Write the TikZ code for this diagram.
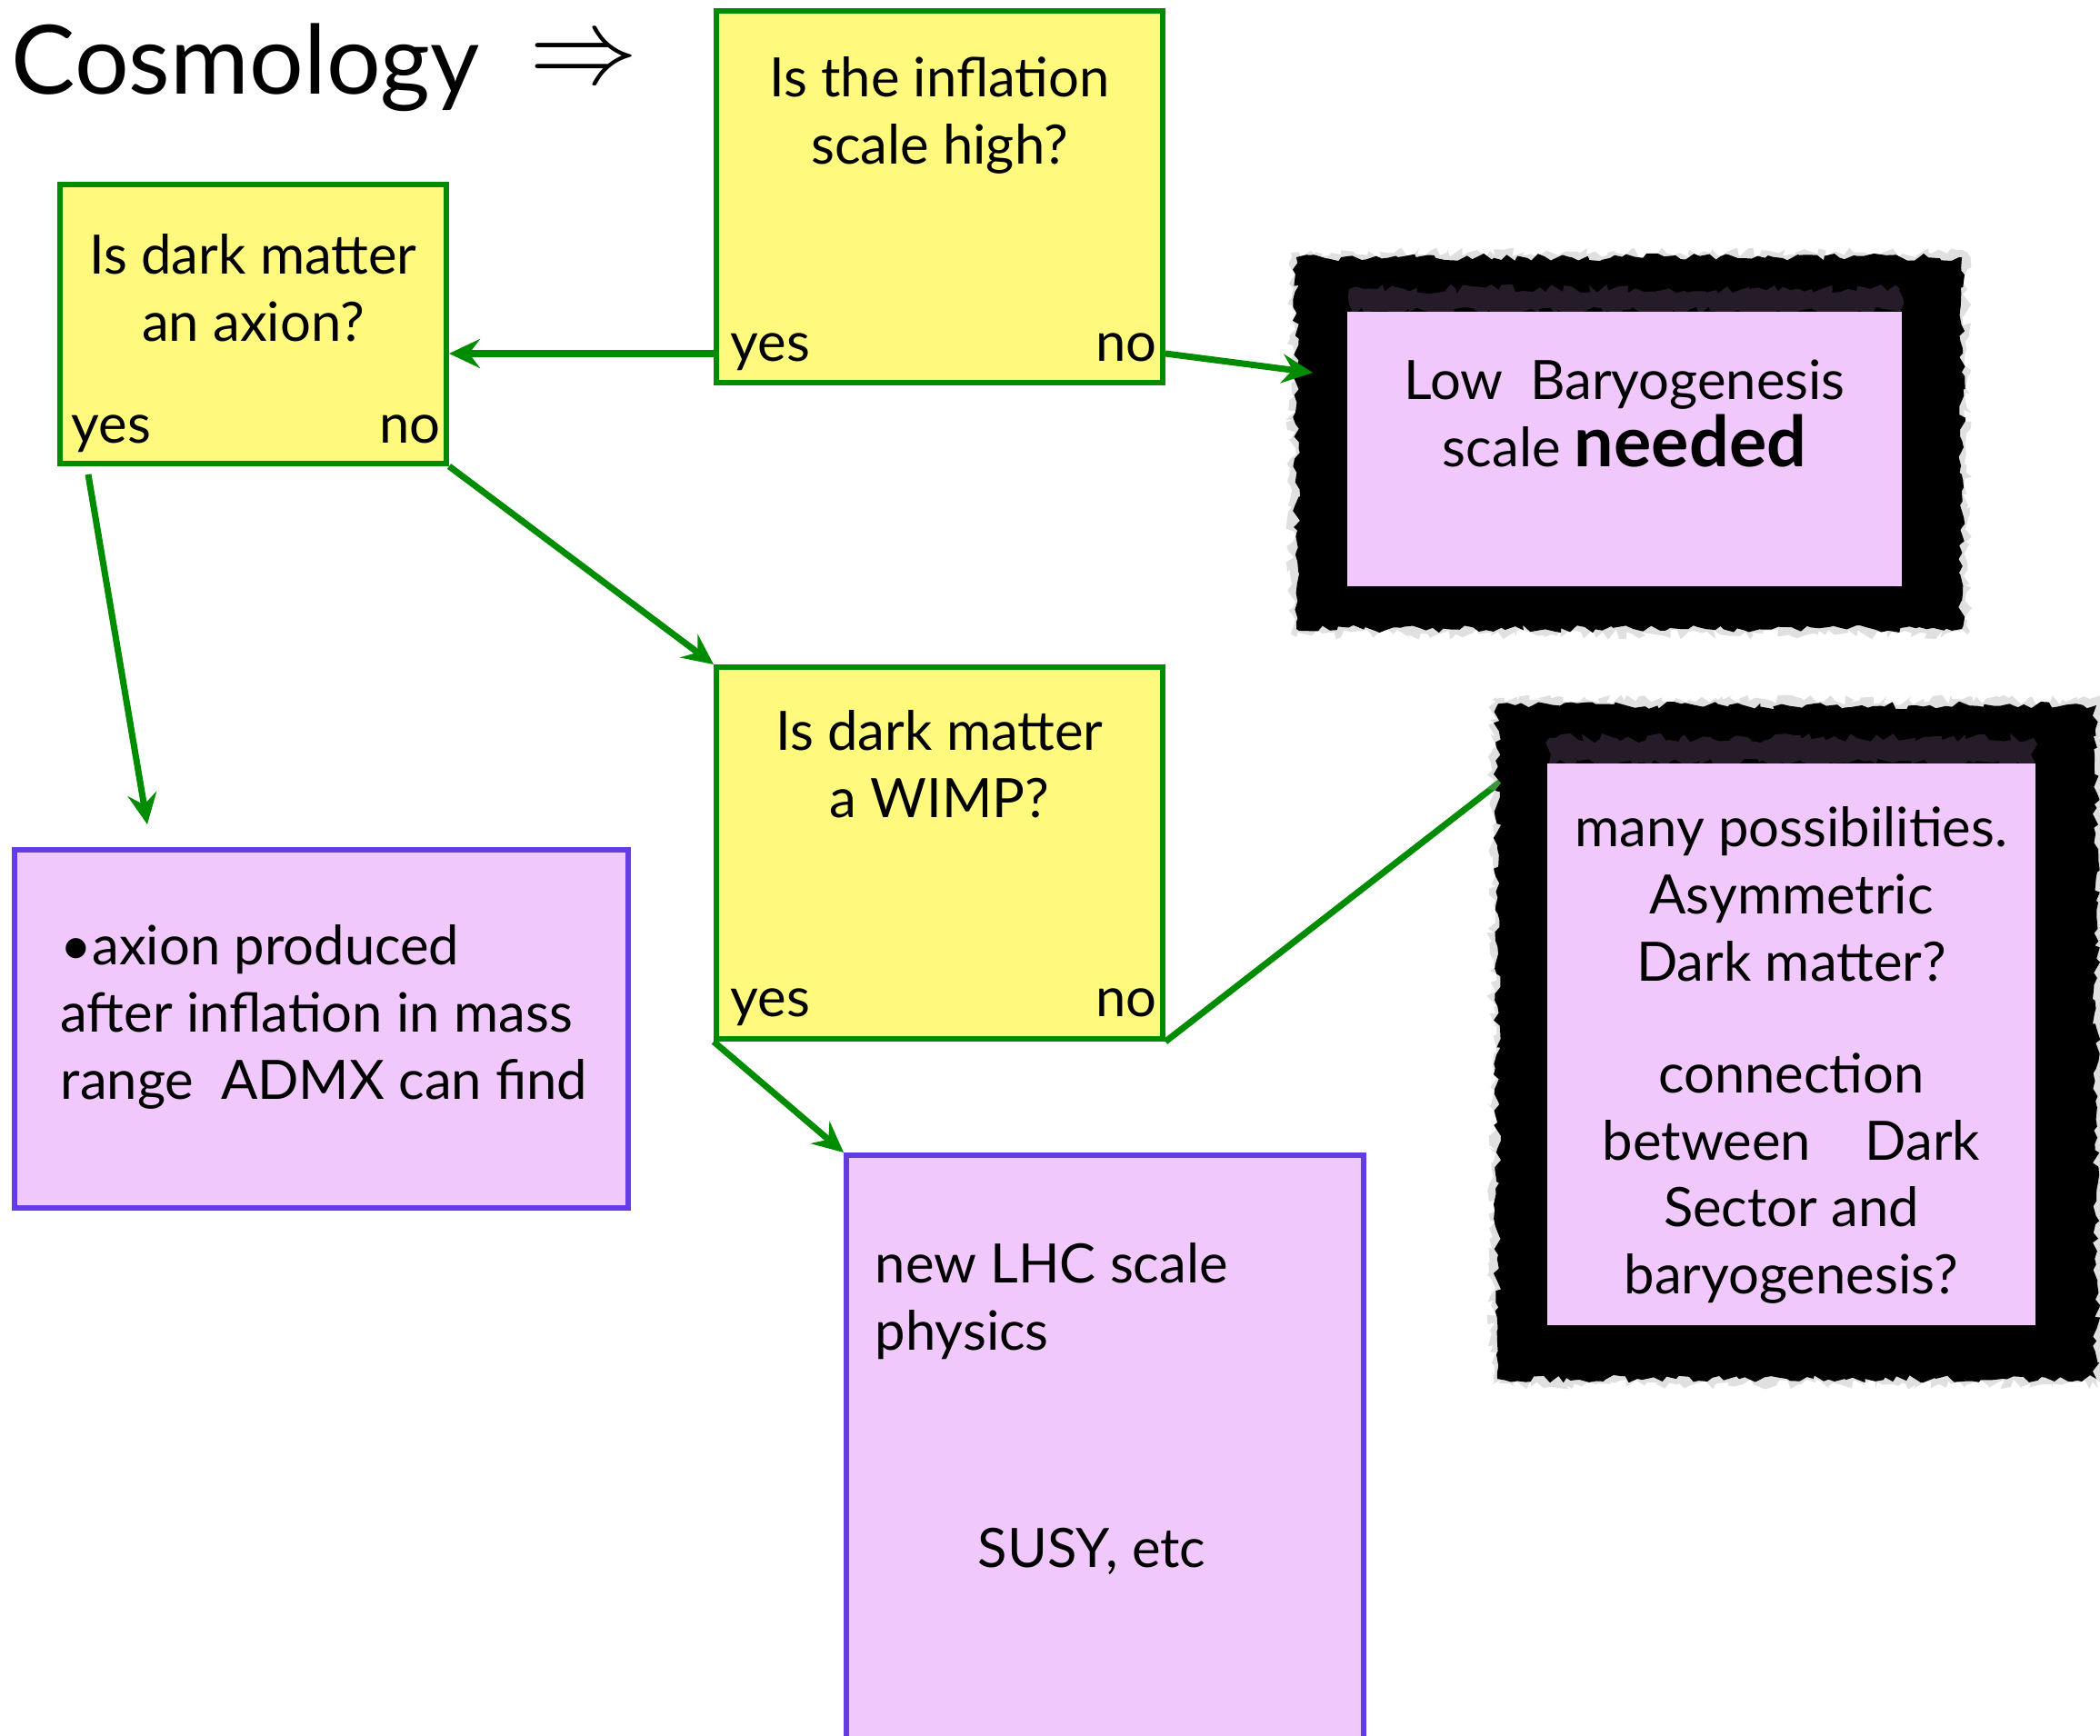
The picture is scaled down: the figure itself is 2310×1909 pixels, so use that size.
\documentclass[tikz,border=0pt]{standalone}
\usepackage{fix-cm}
\usepackage{fontspec}
\setmainfont{Lato}
\usetikzlibrary{arrows.meta,calc,decorations.pathmorphing}
\definecolor{askyellow}{RGB}{255,250,125}
\definecolor{askgreen}{RGB}{0,140,0}
\definecolor{ansfill}{RGB}{240,200,252}
\definecolor{ansline}{RGB}{100,60,230}
\definecolor{smudge}{RGB}{110,80,120}
\tikzset{
	ask/.style={draw=askgreen, fill=askyellow, line width=1.7pt, minimum width=49.1mm, minimum height=40.9mm, inner sep=0pt},
	answer/.style={draw=ansline, fill=ansfill, line width=1.7pt, inner sep=0pt},
	txt/.style={inner sep=0pt, font=\fontsize{17}{21}\selectfont, align=center},
	flow/.style={draw=askgreen, line width=2pt, -{Stealth[length=3.4mm,width=3.2mm,inset=1.2mm]}},
	grunge/.style={fill=black, decorate, decoration={random steps, segment length=2pt, amplitude=1.2pt}},
	haze/.style={fill=black!35, opacity=.35, decorate, decoration={random steps, segment length=1.5pt, amplitude=1.6pt}}
}
\pgfmathsetseed{7}
\begin{document}
\begin{tikzpicture}[x=0.1mm, y=-0.1mm]
	\useasboundingbox (0,0) rectangle (2310,1909);
	\node[anchor=base west, inner sep=0pt, font=\fontsize{30}{36}\selectfont] (title) at (12,103) {Cosmology};
	\node[inner sep=0pt, font=\fontsize{34}{40}\selectfont] (implies) at (642,70) {$\Rightarrow$};
	\node[ask] (infl) at (1033.5,216.5) {};
	\node[ask, minimum width=42.5mm, minimum height=30.7mm] (axion) at (278.5,356.5) {};
	\node[ask] (wimp) at (1033.5,938.5) {};
	\node[answer, minimum width=67.5mm, minimum height=39.4mm] (admx) at (353.5,1132) {};
	\node[answer, minimum width=56.9mm, minimum height=68mm] (lhc) at (1215.5,1611) {};
	\coordinate (manyin) at (1657,855);
	\draw[flow, -] (wimp.south east) -- (manyin);
	\fill[haze] (1420,278) rectangle (2164,698);
	\fill[grunge] (1426,283) rectangle (2158,692);
	\fill[smudge, opacity=.35, decorate, decoration={random steps, segment length=2pt, amplitude=1.5pt}] (1484,318) rectangle (2090,343);
	\node[answer, draw=none, minimum width=61mm, minimum height=30.2mm] (low) at (1787,494) {};
	\fill[haze] (1641,770) rectangle (2314,1523);
	\fill[grunge] (1647,776) rectangle (2306,1517);
	\fill[smudge, opacity=.35, decorate, decoration={random steps, segment length=2pt, amplitude=1.5pt}] (1704,812) rectangle (2237,840);
	\node[answer, draw=none, minimum width=53.7mm, minimum height=61.8mm] (many) at (1970.5,1149) {};
	\node[txt, anchor=north] (inflq) at (1033.5,62) {Is the inflation\\scale high?};
	\node[txt, anchor=base west] (inflyes) at ($(infl.south west)+(18,-26)$) {yes};
	\node[txt, anchor=base east] (inflno) at ($(infl.south east)+(-9,-26)$) {no};
	\node[txt, anchor=north] (axionq) at (278.5,257) {Is dark matter\\an axion?};
	\node[txt, anchor=base west] (axionyes) at ($(axion.south west)+(15,-25)$) {yes};
	\node[txt, anchor=base east] (axionno) at ($(axion.south east)+(-9,-25)$) {no};
	\node[txt, anchor=north] (wimpq) at (1033.5,781) {Is dark matter\\a WIMP?};
	\node[txt, anchor=base west] (wimpyes) at ($(wimp.south west)+(18,-28)$) {yes};
	\node[txt, anchor=base east] (wimpno) at ($(wimp.south east)+(-9,-28)$) {no};
	\node[txt, anchor=north] (lowtxt) at (1787,395) {Low\enspace Baryogenesis\\scale {\bfseries\fontsize{22}{21}\selectfont needed}};
	\node[txt, anchor=north] (manytxt) at (1970.5,887) {many possibilities.\\Asymmetric\\Dark matter?\\[14pt]connection\\between\quad Dark\\Sector and\\baryogenesis?};
	\node[txt, anchor=north west, align=left] (admxtxt) at (66,1017) {\textbullet axion produced\\after inflation in mass\\range\enspace ADMX can find};
	\node[txt, anchor=north west, align=left] (lhctxt) at (962,1367) {new LHC scale\\physics};
	\node[txt, anchor=base] (susy) at (1201,1724) {SUSY, etc};
	\coordinate (inflyesout) at ($(infl.south west)+(0,-35)$);
	\coordinate (inflnoout) at ($(infl.south east)+(0,-35)$);
	\coordinate (lowin) at (1444,410);
	\coordinate (axionyesout) at ($(axion.south west)+(34,9)$);
	\coordinate (admxin) at ($(admx.north west)+(149,-25)$);
	\draw[flow] (inflyesout) -- (axion.east |- inflyesout);
	\draw[flow] (inflnoout) -- (lowin);
	\draw[flow] (axionyesout) -- (admxin);
	\draw[flow] (axion.south east) -- (wimp.north west);
	\draw[flow] (wimp.south west) -- (lhc.north west);
\end{tikzpicture}
\end{document}
